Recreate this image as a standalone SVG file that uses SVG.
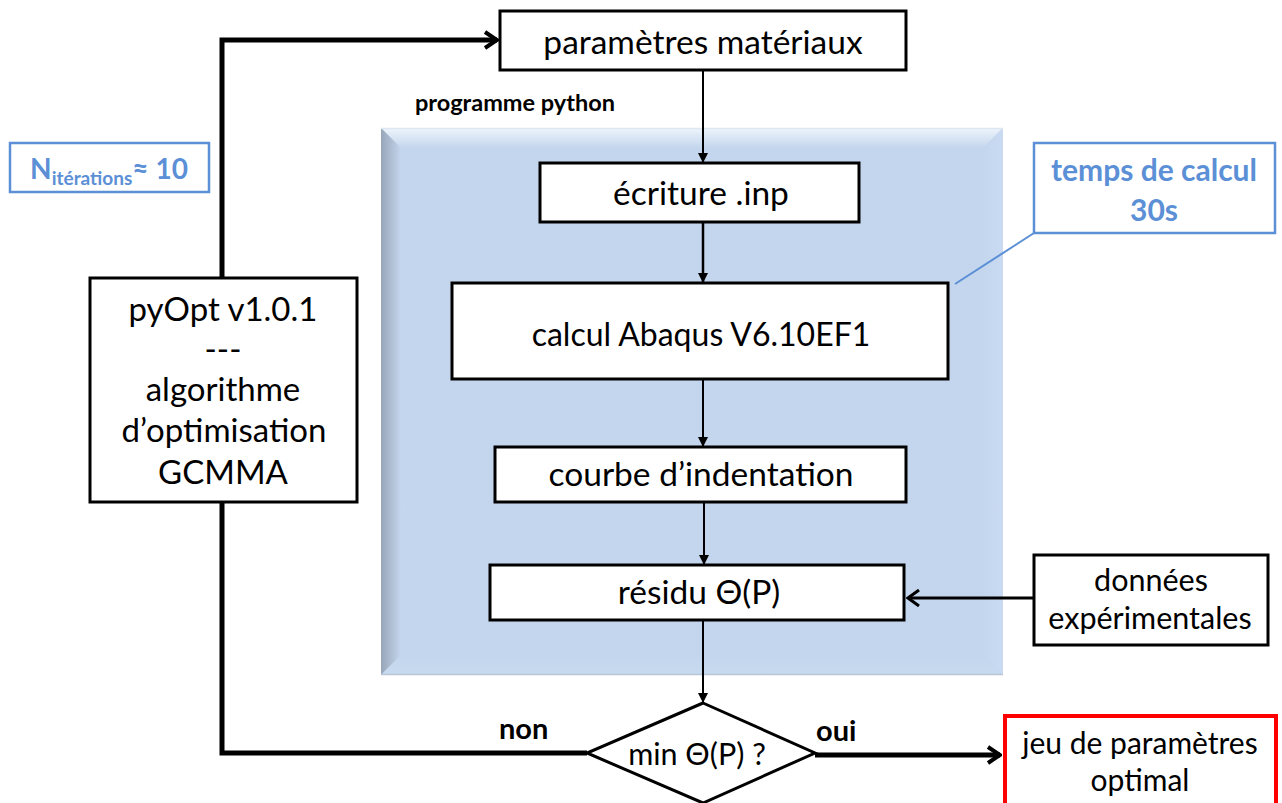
<svg xmlns="http://www.w3.org/2000/svg" width="1282" height="803" viewBox="0 0 1282 803">
<style>
.box{fill:#fff;stroke:#000;stroke-width:3}
.t{font-family:Lato,"Liberation Sans",sans-serif;fill:#000;text-anchor:middle}
.b{font-family:Lato,"Liberation Sans",sans-serif;font-weight:bold;fill:#000}
.blue{font-family:Lato,"Liberation Sans",sans-serif;font-weight:bold;fill:#5b8fd6;text-anchor:middle}
.thin{stroke:#000;stroke-width:2;fill:none}
.thick{stroke:#000;stroke-width:5;fill:none}
</style>
<defs>
<marker id="ah" markerWidth="10" markerHeight="10" refX="9" refY="5" orient="auto" markerUnits="userSpaceOnUse">
<path d="M0,0 L10,5 L0,10 Z" fill="#000"/>
</marker>
<marker id="open" markerWidth="16" markerHeight="20" refX="14" refY="10" orient="auto" markerUnits="userSpaceOnUse">
<path d="M2,2 L14,10 L2,18" fill="none" stroke="#000" stroke-width="4"/>
</marker>
<marker id="open2" markerWidth="14" markerHeight="18" refX="12" refY="9" orient="auto" markerUnits="userSpaceOnUse">
<path d="M1,1 L12,9 L1,17" fill="none" stroke="#000" stroke-width="3"/>
</marker>
<linearGradient id="gTop" x1="0" y1="0" x2="0" y2="1"><stop offset="0" stop-color="#eef4fb"/><stop offset="1" stop-color="#c4d6ed"/></linearGradient>
<linearGradient id="gLeft" x1="0" y1="0" x2="1" y2="0"><stop offset="0" stop-color="#98a6b8"/><stop offset="1" stop-color="#c4d6ed"/></linearGradient>
<linearGradient id="gRight" x1="1" y1="0" x2="0" y2="0"><stop offset="0" stop-color="#c9daf2"/><stop offset="1" stop-color="#c4d6ed"/></linearGradient>
<linearGradient id="gBot" x1="0" y1="1" x2="0" y2="0"><stop offset="0" stop-color="#c8daf0"/><stop offset="1" stop-color="#c4d6ed"/></linearGradient>
</defs>

<g id="panel">
<rect x="381" y="128" width="622" height="547" fill="#c4d6ed"/>
<polygon points="381,128 1003,128 983,148 401,148" fill="url(#gTop)"/>
<polygon points="381,128 401,148 401,655 381,675" fill="url(#gLeft)"/>
<polygon points="1003,128 1003,675 983,655 983,148" fill="url(#gRight)"/>
<polygon points="381,675 1003,675 983,655 401,655" fill="url(#gBot)"/>
<line x1="381" y1="674.5" x2="1003" y2="674.5" stroke="#b8c6d8" stroke-width="1.5"/>
<line x1="381" y1="128.5" x2="1003" y2="128.5" stroke="#dde7f2" stroke-width="1.5"/>
</g>

<g id="label-python"><text class="b" x="415" y="111" style="font-size:23.5px">programme python</text></g>

<g id="connectors">
<polyline class="thick" points="222,280 222,40 497,40" marker-end="url(#open)"/>
<polyline class="thick" points="222,500 222,753 587,753"/>
<line class="thin" x1="703" y1="70" x2="703" y2="162" marker-end="url(#ah)"/>
<line x1="703" y1="222" x2="703" y2="282" stroke="#000" stroke-width="2.5" marker-end="url(#ah)"/>
<line class="thin" x1="703" y1="379" x2="703" y2="446" marker-end="url(#ah)"/>
<line class="thin" x1="704" y1="502" x2="704" y2="564" marker-end="url(#ah)"/>
<line class="thin" x1="703" y1="620" x2="703" y2="702" marker-end="url(#ah)"/>
<line x1="1034" y1="598" x2="908" y2="598" stroke="#000" stroke-width="3" marker-end="url(#open2)"/>
<line class="thick" x1="815" y1="755" x2="1000" y2="755" marker-end="url(#open)"/>
<line x1="1034" y1="233" x2="955" y2="284" stroke="#5b8fd6" stroke-width="2"/>
</g>

<g id="n-params"><rect class="box" x="500" y="11" width="406" height="59"/><text class="t" x="703" y="54" style="font-size:33.5px">paramètres matériaux</text></g>
<g id="n-ecriture"><rect class="box" x="540" y="163" width="319" height="59"/><text class="t" x="701" y="205" style="font-size:33.5px">écriture .inp</text></g>
<g id="n-abaqus"><rect class="box" x="452" y="283" width="496" height="96"/><text class="t" x="701" y="346" style="font-size:32px">calcul Abaqus V6.10EF1</text></g>
<g id="n-courbe"><rect class="box" x="495" y="447" width="411" height="55"/><text class="t" x="701" y="486" style="font-size:33.5px">courbe d’indentation</text></g>
<g id="n-residu"><rect class="box" x="490" y="565" width="414" height="55"/><text class="t" x="699" y="604" style="font-size:33.5px">résidu Θ(P)</text></g>
<g id="n-donnees"><rect class="box" x="1034" y="555" width="234" height="90"/><text class="t" x="1151" y="591" style="font-size:30.5px">données</text><text class="t" x="1150" y="629" style="font-size:30.5px">expérimentales</text></g>
<g id="n-pyopt"><rect class="box" x="90" y="278" width="267" height="224"/>
<text class="t" x="223" y="321" style="font-size:33px">pyOpt v1.0.1</text>
<text class="t" x="223" y="361" style="font-size:33px">---</text>
<text class="t" x="223" y="401" style="font-size:33px">algorithme</text>
<text class="t" x="224" y="442" style="font-size:33px">d’optimisation</text>
<text class="t" x="223" y="484" style="font-size:33px">GCMMA</text></g>
<g id="n-iter"><rect x="10" y="143" width="199" height="49" fill="#fff" stroke="#5b8fd6" stroke-width="2.5"/>
<text class="blue" x="109" y="179" style="font-size:28px">N<tspan style="font-size:19px" dy="6">itérations</tspan><tspan style="font-size:28px" dy="-6">≈ 10</tspan></text></g>
<g id="n-temps"><rect x="1034" y="143" width="241" height="90" fill="#fff" stroke="#5b8fd6" stroke-width="2.5"/>
<text class="blue" x="1154" y="181" style="font-size:30px">temps de calcul</text>
<text class="blue" x="1154" y="221" style="font-size:30px">30s</text></g>
<g id="n-min"><polygon points="703,703 815,753 703,803 587,753" fill="#fff" stroke="#000" stroke-width="3"/>
<text class="t" x="697" y="765" style="font-size:30.5px">min Θ(P)  ?</text></g>
<g id="n-optimal"><rect x="1005" y="716" width="271" height="100" fill="#fff" stroke="#f00" stroke-width="4"/>
<text class="t" x="1140" y="754" style="font-size:30px">jeu de paramètres</text>
<text class="t" x="1140" y="791" style="font-size:30px">optimal</text></g>
<g id="lbl-non"><text class="b" x="499" y="739" style="font-size:29px">non</text></g>
<g id="lbl-oui"><text class="b" x="816" y="741" style="font-size:29px">oui</text></g>
</svg>
